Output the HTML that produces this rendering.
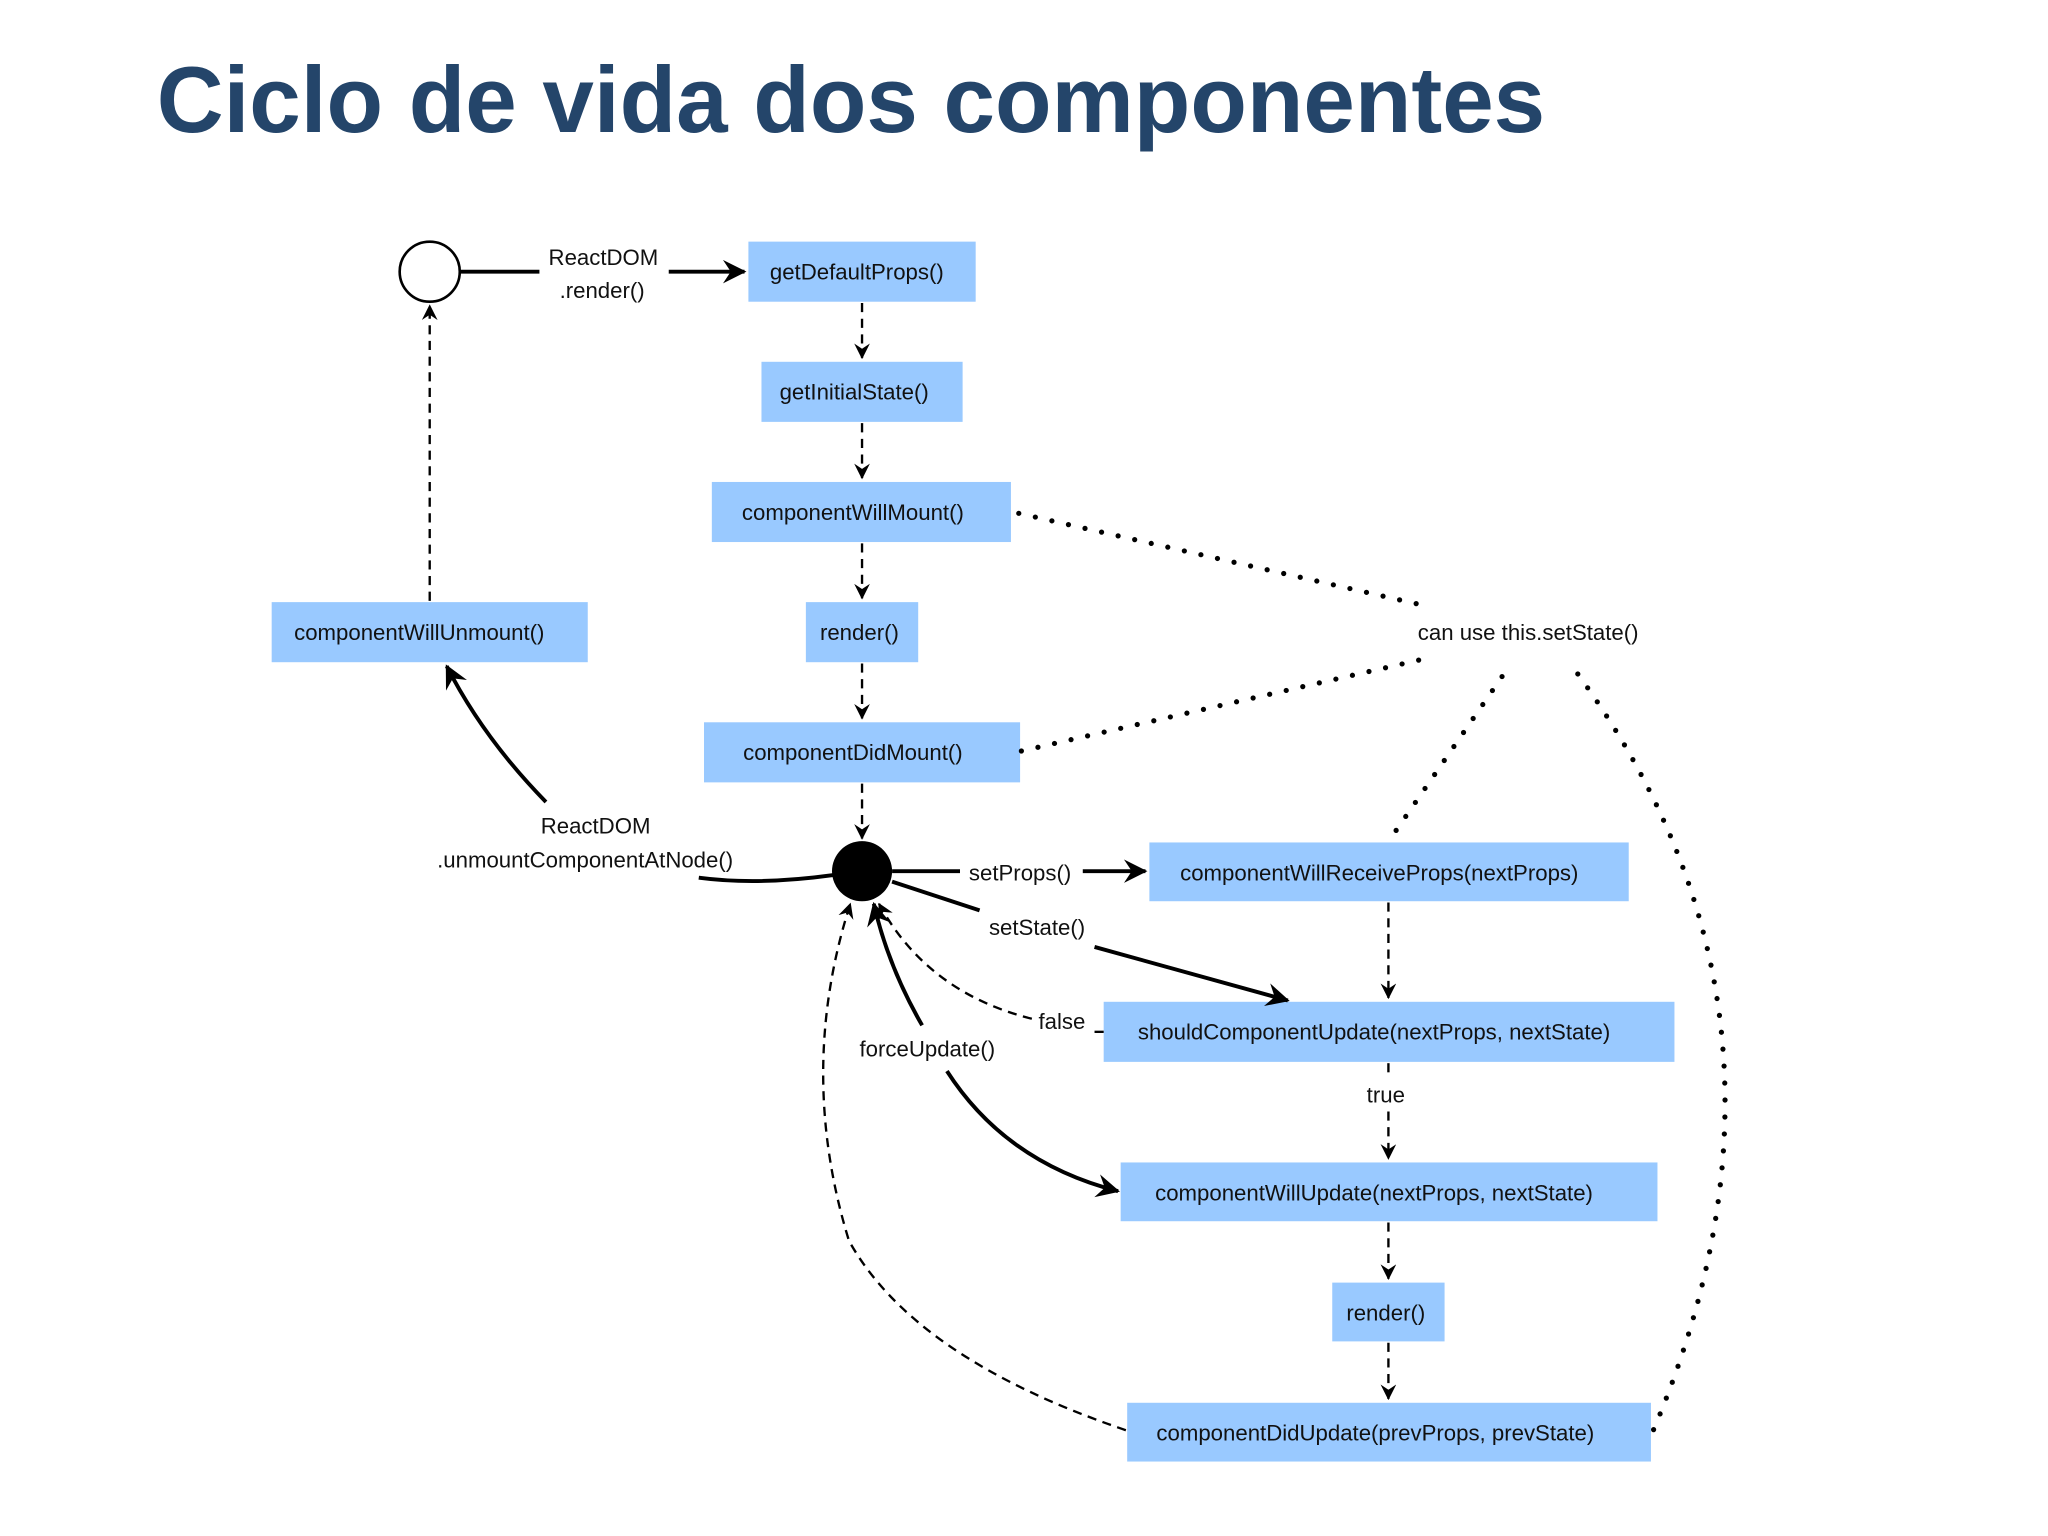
<!DOCTYPE html>
<html><head><meta charset="utf-8"><style>
html,body{margin:0;padding:0;background:#fff;}
svg{display:block;}
text{font-family:"Liberation Sans",Arial,sans-serif;}
</style></head><body>
<svg width="2048" height="1536" viewBox="0 0 1568 1176" xmlns="http://www.w3.org/2000/svg">
<defs>
<marker id="a" viewBox="0 0 12 12" refX="11" refY="6" markerWidth="12" markerHeight="12" markerUnits="userSpaceOnUse" orient="auto">
<path d="M0,0 L12,6 L0,12 L4,6 z" fill="#000"/></marker>
<marker id="b" viewBox="0 0 12 12" refX="11" refY="6" markerWidth="18" markerHeight="18" markerUnits="userSpaceOnUse" orient="auto">
<path d="M0,0 L12,6 L0,12 L4,6 z" fill="#000"/></marker>
</defs>
<rect width="1568" height="1176" fill="#fff"/>
<text x="120" y="101" font-size="72" font-weight="bold" fill="#24456a" textLength="1063" lengthAdjust="spacingAndGlyphs">Ciclo de vida dos componentes</text>

<g fill="#99c9ff">
<rect x="573" y="185" width="174" height="46"/>
<rect x="583" y="277" width="154" height="46"/>
<rect x="545" y="369" width="229" height="46"/>
<rect x="617" y="461" width="86" height="46"/>
<rect x="539" y="553" width="242" height="46"/>
<rect x="208" y="461" width="242" height="46"/>
<rect x="880" y="645" width="367" height="45"/>
<rect x="845" y="767" width="437" height="46"/>
<rect x="858" y="890" width="411" height="45"/>
<rect x="1020" y="982" width="86" height="45"/>
<rect x="863" y="1074" width="401" height="45"/>
</g>
<g font-size="17" fill="#111" text-anchor="middle">
<text x="656" y="214">getDefaultProps()</text>
<text x="654" y="306">getInitialState()</text>
<text x="653" y="398">componentWillMount()</text>
<text x="658" y="490">render()</text>
<text x="653" y="582">componentDidMount()</text>
<text x="321" y="490">componentWillUnmount()</text>
<text x="1056" y="674">componentWillReceiveProps(nextProps)</text>
<text x="1052" y="796">shouldComponentUpdate(nextProps, nextState)</text>
<text x="1052" y="919">componentWillUpdate(nextProps, nextState)</text>
<text x="1061" y="1011">render()</text>
<text x="1053" y="1103">componentDidUpdate(prevProps, prevState)</text>
<text x="462" y="203">ReactDOM</text>
<text x="461" y="228">.render()</text>
<text x="456" y="638">ReactDOM</text>
<text x="448" y="664">.unmountComponentAtNode()</text>
<text x="781" y="674">setProps()</text>
<text x="794" y="716">setState()</text>
<text x="813" y="788">false</text>
<text x="710" y="809">forceUpdate()</text>
<text x="1061" y="844">true</text>
<text x="1170" y="490">can use this.setState()</text>
</g>

<circle cx="329" cy="208" r="23" fill="#fff" stroke="#000" stroke-width="2"/>
<circle cx="660" cy="667" r="23" fill="#000"/>

<g stroke="#000" stroke-width="3" fill="none">
<line x1="352" y1="208" x2="413" y2="208"/>
<line x1="512" y1="208" x2="570" y2="208" marker-end="url(#b)"/>
<path d="M418,614 Q370,565 342,510" marker-end="url(#b)"/>
<path d="M535,672 Q580,678 638,670"/>
<line x1="683" y1="667" x2="735" y2="667"/>
<line x1="829" y1="667" x2="877" y2="667" marker-end="url(#b)"/>
<line x1="683" y1="675" x2="750" y2="697"/>
<line x1="838" y1="725" x2="986" y2="766" marker-end="url(#b)"/>
<path d="M706,785 Q680,740 669,692" marker-end="url(#b)"/>
<path d="M725,820 Q770,890 856,912" marker-end="url(#b)"/>
</g>

<g stroke="#000" stroke-width="1.8" fill="none" stroke-dasharray="7,5">
<line x1="660" y1="232" x2="660" y2="274" marker-end="url(#a)"/>
<line x1="660" y1="324" x2="660" y2="366" marker-end="url(#a)"/>
<line x1="660" y1="416" x2="660" y2="458" marker-end="url(#a)"/>
<line x1="660" y1="508" x2="660" y2="550" marker-end="url(#a)"/>
<line x1="660" y1="600" x2="660" y2="642" marker-end="url(#a)"/>
<line x1="329" y1="460" x2="329" y2="234" marker-end="url(#a)"/>
<line x1="1063" y1="691" x2="1063" y2="764" marker-end="url(#a)"/>
<line x1="1063" y1="814" x2="1063" y2="826"/>
<line x1="1063" y1="851" x2="1063" y2="887" marker-end="url(#a)"/>
<line x1="1063" y1="936" x2="1063" y2="979" marker-end="url(#a)"/>
<line x1="1063" y1="1028" x2="1063" y2="1071" marker-end="url(#a)"/>
<path d="M845,790 L838,790"/>
<path d="M790,780 Q710,760 673,692" marker-end="url(#a)"/>
<path d="M862,1095 Q700,1040 650,950 Q610,820 651,692" marker-end="url(#a)"/>
</g>

<g stroke="#000" stroke-width="4" fill="none" stroke-linecap="round" stroke-dasharray="0,13">
<line x1="780" y1="393" x2="1088" y2="463"/>
<line x1="782" y1="575" x2="1088" y2="505"/>
<line x1="1150" y1="518" x2="1066" y2="640"/>
<path d="M1208,516 Q1400,780 1265,1097"/>
</g>
</svg>
</body></html>
